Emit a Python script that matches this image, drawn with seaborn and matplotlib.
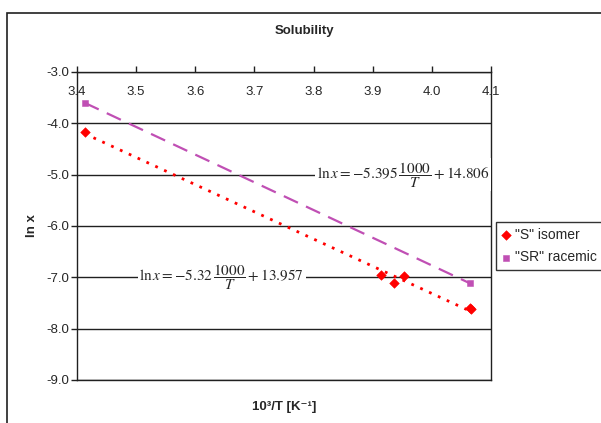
import numpy as np
import pandas as pd
import seaborn as sns
import matplotlib.pyplot as plt
from matplotlib.ticker import FormatStrFormatter, MultipleLocator
from matplotlib.patches import Rectangle

# Data (x = 1000/T, y = ln x)
s_x = [3.413, 3.914, 3.936, 3.953, 4.064, 4.066]
s_y = [-4.17, -6.95, -7.11, -6.97, -7.60, -7.62]
sr_x = [3.413, 4.065]
sr_y = [-3.60, -7.12]

s_label = '"S" isomer'
sr_label = '"SR" racemic'
eq_s = r"$\ln x = -5.32\,\dfrac{1000}{T} + 13.957$"
eq_sr = r"$\ln x = -5.395\,\dfrac{1000}{T} + 14.806$"

red = "#FF0000"
purple = "#C04FB4"

df_s = pd.DataFrame({"x": s_x, "y": s_y})
df_sr = pd.DataFrame({"x": sr_x, "y": sr_y})

sns.set_style("white")
plt.rcParams["font.family"] = ["Liberation Sans", "DejaVu Sans"]
plt.rcParams["mathtext.fontset"] = "stix"
plt.rcParams["axes.unicode_minus"] = False

fig = plt.figure(figsize=(6.01, 4.23), dpi=100)
ax = fig.add_axes([0.128, 0.1017, 0.689, 0.7281])

# trendlines
sns.regplot(data=df_s, x="x", y="y", scatter=False, ci=None, ax=ax,
            line_kws={"color": red, "lw": 2, "ls": (0, (1, 2.5))})
sns.regplot(data=df_sr, x="x", y="y", scatter=False, ci=None, ax=ax,
            line_kws={"color": purple, "lw": 1.6, "ls": (0, (7, 4))})

# points
sns.scatterplot(data=df_s, x="x", y="y", marker="D", color=red, s=24,
                edgecolor=red, label=s_label, ax=ax, zorder=5)
sns.scatterplot(data=df_sr, x="x", y="y", marker="s", color=purple, s=22,
                edgecolor=purple, label=sr_label, ax=ax, zorder=5)

ax.set_xlim(3.4, 4.1)
ax.set_ylim(-9.0, -3.0)
ax.xaxis.set_major_locator(MultipleLocator(0.1))
ax.yaxis.set_major_locator(MultipleLocator(1.0))
ax.xaxis.set_major_formatter(FormatStrFormatter("%.1f"))
ax.yaxis.set_major_formatter(FormatStrFormatter("%.1f"))

ax.yaxis.grid(True, color="#202020", lw=1)
ax.set_axisbelow(True)
for sp in ax.spines.values():
    sp.set_color("#202020")
    sp.set_linewidth(1)

ax.tick_params(axis="x", bottom=False, labelbottom=False, top=True, labeltop=True,
               direction="out", length=4, width=1, color="#202020",
               labelsize=9.5, pad=-23)
ax.tick_params(axis="y", left=True, direction="out", length=4, width=1,
               color="#202020", labelsize=9.5, pad=1.5)

# equation labels
box = dict(facecolor="white", edgecolor="none", pad=1)
ax.text(3.951, -5.0, eq_sr, fontsize=11, ha="center", va="center", bbox=box, zorder=4)
ax.text(3.645, -7.0, eq_s, fontsize=11, ha="center", va="center", bbox=box, zorder=4)

ax.set_xlabel("10³/T [K⁻¹]", fontsize=9.5, fontweight="bold")
ax.set_ylabel("ln x", fontsize=9.5, fontweight="bold")
ax.xaxis.set_label_coords(0.5, -0.068)
ax.yaxis.set_label_coords(-0.095, 0.5)

fig.text(0.507, 0.927, "Solubility", fontsize=9.5, fontweight="bold",
         ha="center", va="center")

handles, labels = ax.get_legend_handles_labels()
if ax.legend_:
    ax.legend_.remove()
leg = fig.legend(handles, labels, loc="upper left", bbox_to_anchor=(0.826, 0.476),
                 borderaxespad=0, fontsize=10, frameon=True, fancybox=False,
                 handlelength=0.5, handletextpad=0.4, borderpad=0.45,
                 labelspacing=0.6)
leg.get_frame().set_edgecolor("black")
leg.get_frame().set_linewidth(1)

# outer chart border
fig.patches.append(Rectangle((7 / 601, -0.05), 1.1, 1 - 13 / 423 + 0.05,
                             transform=fig.transFigure, fill=False,
                             edgecolor="#202020", lw=1.2))

fig.savefig("out.png", dpi=100)
